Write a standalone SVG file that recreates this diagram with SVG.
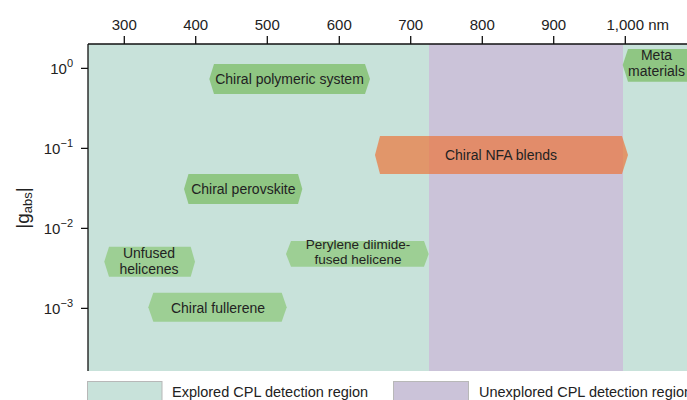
<svg xmlns="http://www.w3.org/2000/svg" width="687" height="400" viewBox="0 0 687 400">
<style>
text{font-family:"Liberation Sans",Arial,sans-serif;fill:#222}
.tk{font-size:15px;text-anchor:middle}
.yl{font-size:15px;text-anchor:end}
.sup{font-size:11px}
.lbl{font-size:14px;text-anchor:middle}
.hex{fill:#8fc683}
.hexl{fill:#9dcf94}
.ax{stroke:#111;stroke-width:1.3;fill:none}
.leg{font-size:14.5px}
</style>
<rect width="687" height="400" fill="#fff"/>
<g id="regions">
<rect x="88" y="44" width="341" height="327" fill="#c8e2da"/>
<rect x="429" y="44" width="194" height="327" fill="#cbc3d9"/>
<rect x="623" y="44" width="64" height="327" fill="#c8e2da"/>
</g>
<g id="axes">
<line class="ax" x1="88" y1="44" x2="687" y2="44"/>
<line class="ax" x1="88" y1="44" x2="88" y2="371"/>
<path class="ax" d="M124.3 36V44M195.7 36V44M267.3 36V44M339.3 36V44M410.7 36V44M482.3 36V44M553.7 36V44M625.3 36V44"/>
<path class="ax" d="M81 68.3H88M81 148.3H88M81 228.3H88M81 308.3H88"/>
<text class="tk" x="124.3" y="30">300</text>
<text class="tk" x="195.7" y="30">400</text>
<text class="tk" x="267.3" y="30">500</text>
<text class="tk" x="339.3" y="30">600</text>
<text class="tk" x="410.7" y="30">700</text>
<text class="tk" x="482.3" y="30">800</text>
<text class="tk" x="553.7" y="30">900</text>
<text x="606.5" y="30" style="font-size:15px">1,000 nm</text>
<text class="yl" x="73" y="73.5">10<tspan class="sup" dy="-6.5">0</tspan></text>
<text class="yl" x="73" y="153.5">10<tspan class="sup" dy="-6.5">−1</tspan></text>
<text class="yl" x="73" y="233.5">10<tspan class="sup" dy="-6.5">−2</tspan></text>
<text class="yl" x="73" y="313.5">10<tspan class="sup" dy="-6.5">−3</tspan></text>
<text transform="translate(29,208) rotate(-90)" style="font-size:19px" text-anchor="middle">|g<tspan style="font-size:13px" dy="3">abs</tspan><tspan dy="-3">|</tspan></text>
</g>
<g id="node-polymeric">
<polygon class="hex" points="209.3,79 214,64 365,64 370,79 365,94 214,94"/>
<text class="lbl" x="289.5" y="84">Chiral polymeric system</text>
</g>
<g id="node-meta">
<polygon class="hex" points="622.7,65 628,49 687,49 687,81.7 628,81.7"/>
<text class="lbl" x="656.5" y="60">Meta</text>
<text class="lbl" x="656.5" y="76">materials</text>
</g>
<g id="node-nfa">
<polygon fill="#ee7235" fill-opacity="0.68" points="375,155 380,136 622,136 628,155 622,174 380,174"/>
<text class="lbl" x="501" y="160">Chiral NFA blends</text>
</g>
<g id="node-perovskite">
<polygon class="hex" points="184,189 188.5,174 298,174 302.3,189 298,204 188.5,204"/>
<text class="lbl" x="243.3" y="194">Chiral perovskite</text>
</g>
<g id="node-unfused">
<polygon class="hexl" points="104.3,261.7 109,246.7 190.7,246.7 195,261.7 190.7,276.7 109,276.7"/>
<text class="lbl" x="149" y="257.5">Unfused</text>
<text class="lbl" x="149" y="273.5">helicenes</text>
</g>
<g id="node-perylene">
<polygon class="hexl" points="286,254 291,241 424,241 428.7,254 424,266.7 291,266.7"/>
<text class="lbl" x="358" y="249" style="font-size:13.5px">Perylene diimide-</text>
<text class="lbl" x="358" y="264" style="font-size:13.5px">fused helicene</text>
</g>
<g id="node-fullerene">
<polygon class="hexl" points="148.3,307.3 153.3,292.7 281.7,292.7 286.7,307.3 281.7,321.7 153.3,321.7"/>
<text class="lbl" x="218" y="312.5">Chiral fullerene</text>
</g>
<g id="legend">
<rect x="87.5" y="381.5" width="74.5" height="25" fill="#c8e2da" stroke="#b8b8b8"/>
<text class="leg" x="172" y="397">Explored CPL detection region</text>
<rect x="393.5" y="381.5" width="75" height="25" fill="#cbc3d9" stroke="#b8b8b8"/>
<text class="leg" x="479" y="397">Unexplored CPL detection region</text>
</g>
<g id="connectors"></g>
</svg>
